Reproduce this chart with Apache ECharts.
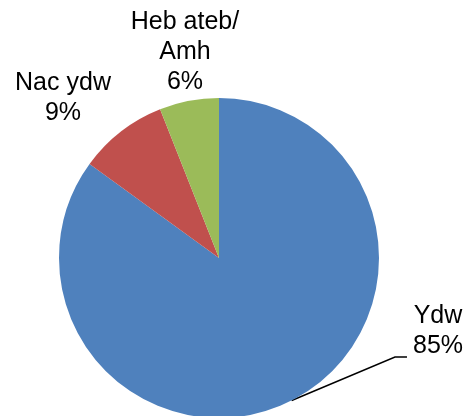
<!DOCTYPE html>
<html>
<head>
<meta charset="utf-8">
<script src="https://cdn.jsdelivr.net/npm/echarts@6/dist/echarts.min.js"></script>
<style>html,body{margin:0;padding:0;background:#fff;}#c{width:466px;height:416px;}</style>
</head>
<body>
<div id="c"></div>
<script>
const categories = ['Ydw', 'Nac ydw', 'Heb ateb/\nAmh'];
const values = [85, 9, 6];
const colors = ['#4F81BD', '#C0504D', '#9BBB59'];
// label block centres (layout only)
const labelPos = [[438, 331], [63, 98], [185, 52]];

const chart = echarts.init(document.getElementById('c'), null, {renderer: 'canvas'});
chart.setOption({
  animation: false,
  backgroundColor: '#ffffff',
  series: [{
    type: 'pie',
    center: [219, 258],
    radius: 160,
    startAngle: 90,
    clockwise: true,
    avoidLabelOverlap: false,
    itemStyle: {borderWidth: 0},
    label: {
      show: true,
      position: 'outside',
      formatter: function (p) { return p.name + '\n' + p.value + '%'; },
      fontFamily: 'Liberation Sans, Arial, sans-serif',
      fontSize: 25,
      lineHeight: 30,
      color: '#000',
      align: 'center'
    },
    labelLine: {show: true, lineStyle: {color: '#000', width: 1.5}, length: 15, length2: 10},
    labelLayout: function (params) {
      const i = params.dataIndex;
      const out = {x: labelPos[i][0], y: labelPos[i][1], align: 'center', verticalAlign: 'middle'};
      if (i === 0 && params.labelLinePoints) {
        const r = params.labelRect;
        const p0 = params.labelLinePoints[0];
        const p2 = [labelPos[i][0] - r.width / 2 - 6, labelPos[i][1] + r.height / 2 - 4];
        const p1 = [p2[0] - 12, p2[1]];
        out.labelLinePoints = [p0, p1, p2];
      }
      return out;
    },
    data: categories.map((c, i) => ({
      name: c,
      value: values[i],
      itemStyle: {color: colors[i]},
      labelLine: {show: i === 0}
    }))
  }]
});
</script>
</body>
</html>
